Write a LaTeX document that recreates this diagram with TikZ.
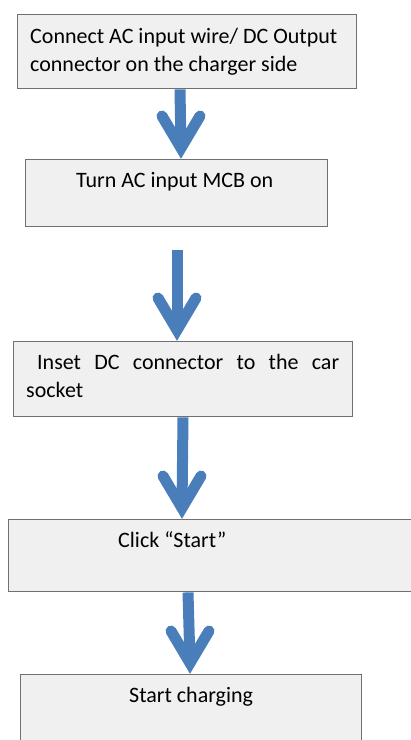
\documentclass[tikz,border=0pt]{standalone}
\usepackage{fontspec}
\setmainfont{Carlito}
\usetikzlibrary{calc}
\definecolor{boxfill}{HTML}{F0F0F0}
\definecolor{boxline}{HTML}{707070}
\definecolor{arrowblue}{HTML}{4A7EBB}
\tikzset{
  box/.style={draw=boxline, fill=boxfill, line width=1.4pt, rectangle, inner sep=0pt, anchor=north west},
  txt/.style={font=\fontsize{22}{28}\selectfont, inner sep=0pt, anchor=base west, text=black, align=left},
  shaft/.style={draw=arrowblue, line width=11pt, line cap=butt},
  barbs/.style={draw=arrowblue, line width=11pt, line cap=round, line join=miter},
}
\newcommand\flowarrow[2]{%
  \draw[shaft] (#1) -- ($(#2)+(0,-11)$);
  \draw[barbs] ($(#2)+(-19,-43)$) -- ($(#2)+(0,-11)$) -- ($(#2)+(19,-43)$);
}
\begin{document}
\begin{tikzpicture}[x=1pt,y=-1pt]
\useasboundingbox (0,0) rectangle (411,740);
\clip (0,0) rectangle (411,740);
% boxes
\node[box, minimum width=339pt, minimum height=74pt] (b1) at (17,14) {};
\node[box, minimum width=302pt, minimum height=67pt] (b2) at (25,159) {};
\node[box, minimum width=339pt, minimum height=75pt] (b3) at (13,341) {};
\node[box, minimum width=412pt, minimum height=72pt] (b4) at (8,519) {};
\node[box, minimum width=341pt, minimum height=90pt] (b5) at (20,674) {};
% texts (base anchor of a two-line node is the last line)
\node[txt] (t1) at ($(b1.north west)+(13,57)$) {Connect AC input wire/ DC Output\\connector on the charger side};
\node[txt] (t2) at ($(b2.north west)+(51,28)$) {Turn AC input MCB on};
\node[txt] (t3) at ($(b3.north west)+(13,56)$) {\hspace*{11pt}\makebox[302pt][s]{Inset DC connector to the car}\\socket};
\node[txt] (t4) at ($(b4.north west)+(110,28)$) {Click “Start”};
\node[txt] (t5) at ($(b5.north west)+(109,28)$) {Start charging};
% connectors
\coordinate (s1) at (b1.south -| 180,0);
\coordinate (e1) at (b2.north -| 181,0);
\coordinate (s2) at (177,250);
\coordinate (e2) at (b3.north -| 177,0);
\coordinate (s3) at (b3.south -| 183,0);
\coordinate (e3) at (b4.north -| 182,0);
\coordinate (s4) at (b4.south -| 188,0);
\coordinate (e4) at (b5.north -| 190,0);
\flowarrow{s1}{e1}
\flowarrow{s2}{e2}
\flowarrow{s3}{e3}
\flowarrow{s4}{e4}
\end{tikzpicture}
\end{document}
